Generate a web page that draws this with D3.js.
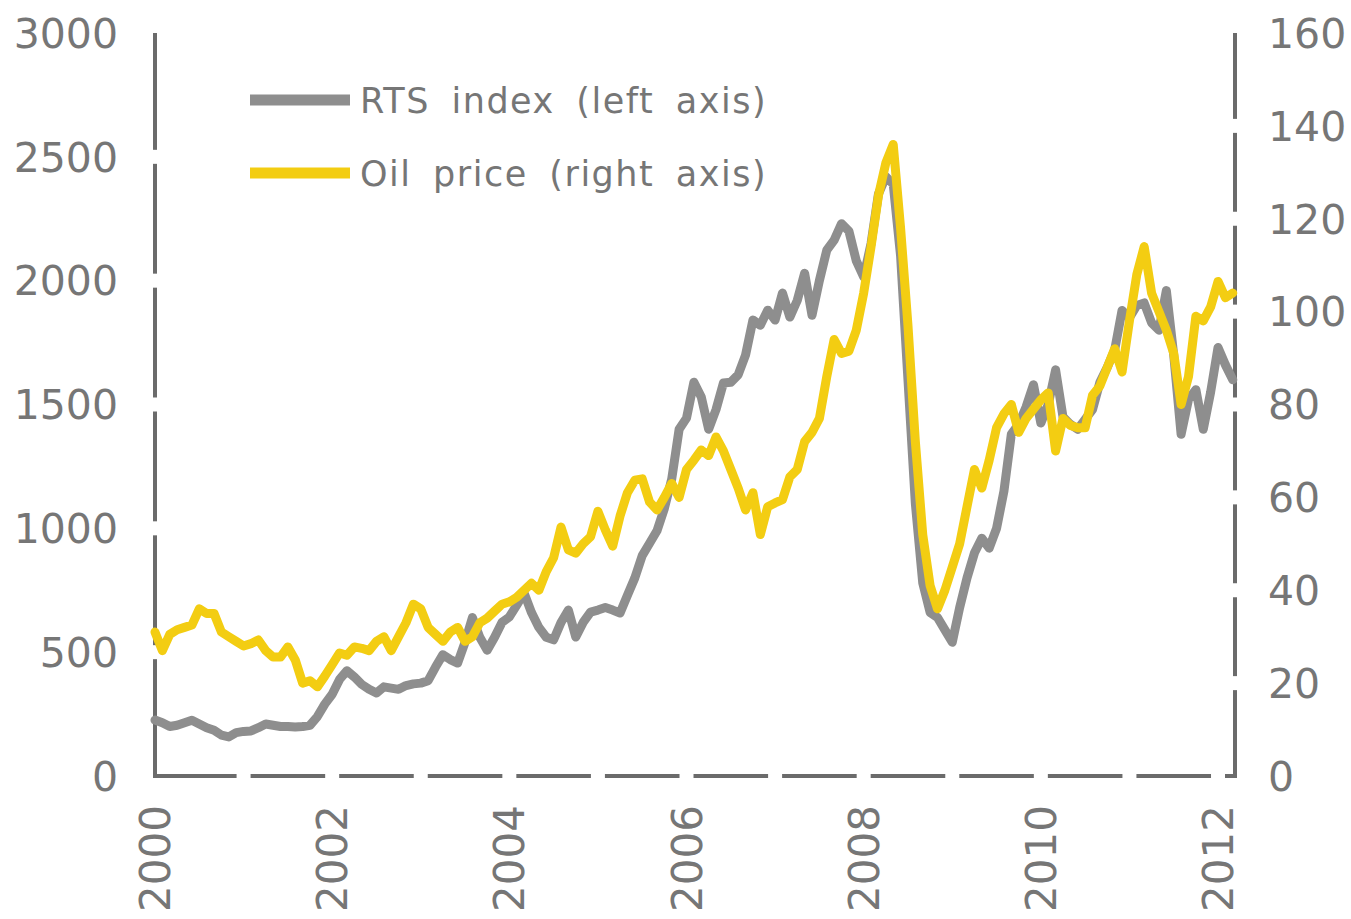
<!DOCTYPE html>
<html>
<head>
<meta charset="utf-8">
<script src="https://cdn.jsdelivr.net/npm/d3@7"></script>
<style>
  body { margin: 0; background: #fff; }
  svg { display: block; }
</style>
</head>
<body>
<div id="chart"></div>
<script>
const WIDTH = 1351;
const HEIGHT = 919;
const AXIS_COLOR = "#6b6b6b";
const LABEL_COLOR = "#767676";
const RTS_COLOR = "#8e8e8e";
const OIL_COLOR = "#f3cd12";
const GAP = 7;

// monthly series, Jan 2000 .. Mar 2012
const rtsIndex = [
  226, 215, 200, 205, 215, 225, 210, 195, 185, 165, 158, 175,
  180, 182, 195, 210, 205, 200, 200, 198, 200, 205, 240, 290,
  330, 390, 425, 400, 370, 350, 335, 360, 355, 350, 365, 372,
  375, 385, 440, 490, 470, 456, 540, 640, 560, 508, 560, 620,
  642, 690, 739, 660, 600, 560, 550, 620, 670, 561, 620, 662,
  670, 680, 670, 658, 730, 800, 890, 940, 990, 1080, 1200, 1400,
  1445, 1590, 1530, 1400, 1480, 1587, 1590, 1620, 1700, 1841, 1820, 1881,
  1841, 1950, 1853, 1920, 2030, 1860, 2000, 2123, 2164, 2230, 2200, 2080,
  2015, 2150, 2350, 2420, 2390, 2100, 1600, 1100, 780, 660, 640, 590,
  540, 680, 800, 900, 960, 920, 1000, 1150, 1380, 1420, 1490, 1580,
  1425, 1500, 1640, 1450, 1420, 1400, 1440, 1480, 1590, 1650, 1720, 1880,
  1850, 1900, 1910, 1830, 1800, 1960, 1700, 1380, 1520, 1560, 1400, 1550,
  1730, 1660, 1600
];

const oilPrice = [
  31, 27, 30.5, 31.5, 32, 32.5, 36, 35, 35, 31, 30, 29,
  28, 28.5, 29.3, 27, 25.6, 25.6, 27.8, 25, 20, 20.5, 19.2, 21.5,
  24, 26.5, 26, 27.8, 27.5, 27, 29, 30, 27, 30, 33, 37,
  36, 32, 30.5, 29, 31, 32, 29, 30, 33, 34, 35.5, 37,
  37.5, 38.5, 40, 41.5, 40, 44, 47, 53.6, 48.7, 48, 50, 51.5,
  57, 53, 49.5, 56, 61, 63.7, 64, 59, 57.3, 60, 63, 60,
  66, 68, 70.2, 69, 73, 70, 66, 62, 57.3, 61, 52, 58,
  58.8, 59.5, 64.4, 66, 72, 74, 77, 86, 94, 91, 91.5, 96,
  104, 114, 125, 132, 136, 118, 97, 72, 52, 41, 36, 40,
  45, 50, 58, 66, 62, 68, 75, 78, 80, 74, 77, 79,
  81, 82.5, 70, 77, 75.5, 75, 75, 82, 84, 88, 92, 87,
  98, 108, 114, 104, 100, 96, 91, 80, 86, 99, 98, 101,
  106.5, 103, 104
];

const yearLabels = ["2000", "2002", "2004", "2006", "2008", "2010", "2012"];
const leftTicks = [0, 500, 1000, 1500, 2000, 2500, 3000];
const rightTicks = [0, 20, 40, 60, 80, 100, 120, 140, 160];
const seriesNames = ["RTS index (left axis)", "Oil price (right axis)"];

const x = d3.scaleLinear().domain([0, 146.3]).range([155, 1235]);
const yLeft = d3.scaleLinear().domain([0, 3000]).range([776, 33]);
const yRight = d3.scaleLinear().domain([0, 160]).range([776, 33]);

const svg = d3.select("#chart")
  .append("svg")
  .attr("width", WIDTH)
  .attr("height", HEIGHT);

// --- axis lines, broken at each tick ---
function segments(positions) {
  // positions sorted ascending; gaps at interior positions only
  const segs = [];
  for (let i = 0; i < positions.length - 1; i++) {
    const a = positions[i] + (i === 0 ? 0 : GAP);
    const b = positions[i + 1] - (i + 1 === positions.length - 1 ? 0 : GAP);
    segs.push([a, b]);
  }
  return segs;
}

const axes = svg.append("g")
  .attr("stroke", AXIS_COLOR)
  .attr("stroke-width", 4);

// left
const leftPos = leftTicks.map(yLeft).sort((a, b) => a - b);
segments(leftPos).forEach(s => {
  axes.append("line").attr("x1", x(0)).attr("x2", x(0))
    .attr("y1", s[0]).attr("y2", s[1] + (s[1] === yLeft(0) ? 2 : 0));
});

// right
const rightPos = rightTicks.map(yRight).sort((a, b) => a - b);
segments(rightPos).forEach(s => {
  axes.append("line").attr("x1", x(146.3)).attr("x2", x(146.3))
    .attr("y1", s[0]).attr("y2", s[1] + (s[1] === yRight(0) ? 2 : 0));
});

// bottom, gaps at every year
const yearPos = d3.range(0, 13).map(k => x(k * 12)).concat([x(146.3)]);
segments(yearPos).forEach(s => {
  axes.append("line").attr("y1", yLeft(0)).attr("y2", yLeft(0))
    .attr("x1", s[0] - (s[0] === x(0) ? 2 : 0))
    .attr("x2", s[1] + (s[1] === x(146.3) ? 2 : 0));
});

// --- tick labels ---
const labelFont = "'DejaVu Sans', sans-serif";

svg.append("g")
  .selectAll("text")
  .data(leftTicks)
  .enter()
  .append("text")
  .attr("x", 118)
  .attr("y", d => yLeft(d))
  .attr("dy", "0.36em")
  .attr("text-anchor", "end")
  .attr("font-family", labelFont)
  .attr("font-size", 41)
  .attr("fill", LABEL_COLOR)
  .text(d => d);

svg.append("g")
  .selectAll("text")
  .data(rightTicks)
  .enter()
  .append("text")
  .attr("x", 1268)
  .attr("y", d => yRight(d))
  .attr("dy", "0.36em")
  .attr("text-anchor", "start")
  .attr("font-family", labelFont)
  .attr("font-size", 41)
  .attr("fill", LABEL_COLOR)
  .text(d => d);

svg.append("g")
  .selectAll("text")
  .data(yearLabels)
  .enter()
  .append("text")
  .attr("transform", d => `translate(${x((+d - 2000) * 12)},805) rotate(-90)`)
  .attr("dy", "0.36em")
  .attr("text-anchor", "end")
  .attr("font-family", labelFont)
  .attr("font-size", 42)
  .attr("fill", LABEL_COLOR)
  .text(d => d);

// --- lines ---
const rtsLine = d3.line()
  .x((d, i) => x(i))
  .y(d => yLeft(d));

const oilLine = d3.line()
  .x((d, i) => x(i))
  .y(d => yRight(d));

svg.append("path")
  .datum(rtsIndex)
  .attr("d", rtsLine)
  .attr("fill", "none")
  .attr("stroke", RTS_COLOR)
  .attr("stroke-width", 9)
  .attr("stroke-linejoin", "round")
  .attr("stroke-linecap", "round");

svg.append("path")
  .datum(oilPrice)
  .attr("d", oilLine)
  .attr("fill", "none")
  .attr("stroke", OIL_COLOR)
  .attr("stroke-width", 9)
  .attr("stroke-linejoin", "round")
  .attr("stroke-linecap", "round");

// --- legend ---
const legend = svg.append("g");
const legendColors = [RTS_COLOR, OIL_COLOR];
seriesNames.forEach((name, i) => {
  const ly = 100 + i * 73;
  legend.append("line")
    .attr("x1", 250).attr("x2", 350)
    .attr("y1", ly).attr("y2", ly)
    .attr("stroke", legendColors[i])
    .attr("stroke-width", 11);
  legend.append("text")
    .attr("x", 360)
    .attr("y", ly)
    .attr("dy", "0.36em")
    .attr("font-family", labelFont)
    .attr("font-size", 35)
    .attr("letter-spacing", 1.5)
    .attr("word-spacing", 9)
    .attr("fill", LABEL_COLOR)
    .text(name);
});
</script>
</body>
</html>
